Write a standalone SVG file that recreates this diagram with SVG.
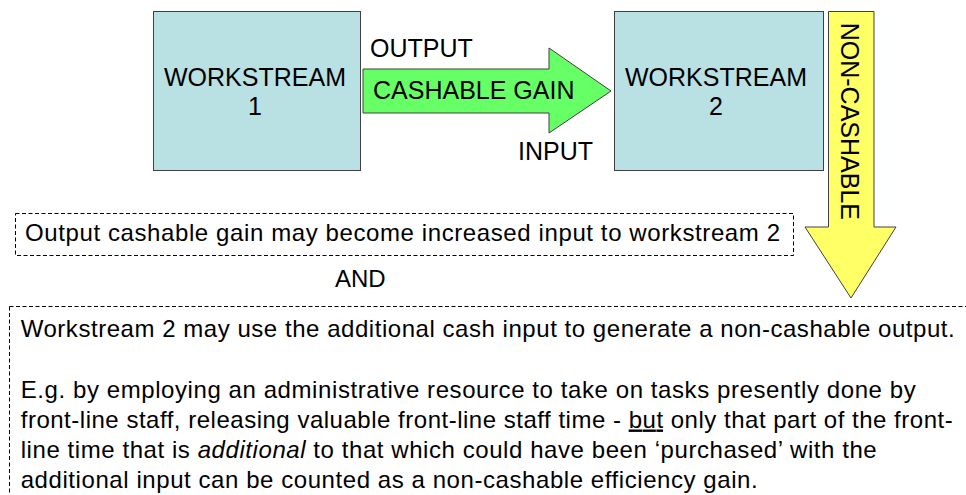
<svg xmlns="http://www.w3.org/2000/svg" width="966" height="495" viewBox="0 0 966 495">
<style>
text{font-family:"Liberation Sans",Arial,sans-serif;fill:#000}
.big{font-size:25px}
.body{font-size:24px}
.box{fill:#B9E0E3;stroke:#404040;stroke-width:1}
.dash{fill:none;stroke:#000;stroke-width:1;stroke-dasharray:4,2.5}
.arrow{stroke:#404040;stroke-width:1}
</style>
<rect width="966" height="495" fill="#fff"/>
<g id="workstream1">
<rect class="box" x="153.5" y="11.5" width="207" height="159"/>
<text class="big" x="255" y="86" text-anchor="middle">WORKSTREAM</text>
<text class="big" x="255" y="115" text-anchor="middle">1</text>
</g>
<g id="workstream2">
<rect class="box" x="614.5" y="11.5" width="209" height="159"/>
<text class="big" x="716" y="86" text-anchor="middle">WORKSTREAM</text>
<text class="big" x="716" y="115" text-anchor="middle">2</text>
</g>
<g id="connectors">
<g id="cashable-arrow">
<polygon class="arrow" fill="#66FF66" points="363,69 549,69 549,48 611,91 549,133 549,113 363,113"/>
<text class="big" x="373" y="99">CASHABLE GAIN</text>
</g>
<g id="noncashable-arrow">
<polygon class="arrow" fill="#FFFF66" points="828.5,11.5 874,11.5 874,227 896,227 851,298 805,227 828.5,227"/>
<text class="big" transform="translate(841,22.7) rotate(90)">NON-CASHABLE</text>
</g>
</g>
<g id="labels">
<text class="big" x="370" y="57">OUTPUT</text>
<text class="big" x="518" y="160">INPUT</text>
</g>
<g id="note1">
<rect class="dash" x="15.5" y="213.5" width="778" height="42"/>
<text class="body" x="25" y="241" textLength="755">Output cashable gain may become increased input to workstream 2</text>
</g>
<g id="and">
<text class="body" x="335" y="287">AND</text>
</g>
<g id="note2">
<rect class="dash" x="9.5" y="306.5" width="1000" height="250"/>
<text class="body" x="20.7" y="336.5" textLength="934">Workstream 2 may use the additional cash input to generate a non-cashable output.</text>
<text class="body" x="20.7" y="397.5" textLength="895">E.g. by employing an administrative resource to take on tasks presently done by</text>
<text class="body" x="20.7" y="427.5" textLength="932">front-line staff, releasing valuable front-line staff time - <tspan text-decoration="underline">but</tspan> only that part of the front-</text>
<text class="body" x="20.7" y="457.5" textLength="856">line time that is <tspan font-style="italic">additional</tspan> to that which could have been ‘purchased’ with the</text>
<text class="body" x="20.7" y="487.5" textLength="737">additional input can be counted as a non-cashable efficiency gain.</text>
</g>
</svg>
